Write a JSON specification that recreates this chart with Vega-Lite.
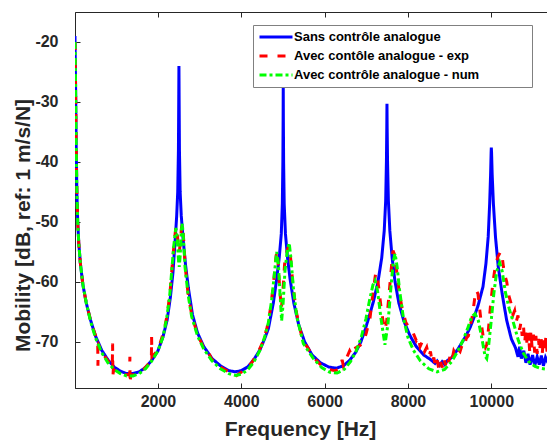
{
  "$schema": "https://vega.github.io/schema/vega-lite/v6.json",
  "autosize": {"type": "none"},
  "padding": {"left": 75, "top": 12, "right": 0, "bottom": 52},
  "width": 473,
  "height": 376,
  "background": "white",
  "config": {
    "font": "Liberation Sans",
    "view": {"stroke": "#262626", "strokeWidth": 1},
    "axis": {
      "grid": false,
      "domainColor": "#262626",
      "tickColor": "#262626",
      "labelColor": "#262626",
      "titleColor": "#262626",
      "labelFont": "Liberation Sans",
      "titleFont": "Liberation Sans",
      "labelFontSize": 16,
      "labelFontWeight": "bold",
      "titleFontSize": 21,
      "titleFontWeight": "bold",
      "tickSize": -5,
      "tickWidth": 1,
      "domainWidth": 1
    },
    "legend": {
      "orient": "none",
      "legendX": 178,
      "legendY": 13,
      "fillColor": "white",
      "strokeColor": "#808080",
      "strokeWidth": 1,
      "padding": 5,
      "labelFont": "Liberation Sans",
      "labelFontSize": 13,
      "labelFontWeight": "bold",
      "labelColor": "#000000",
      "labelLimit": 400,
      "symbolStrokeWidth": 3,
      "rowPadding": 5
    }
  },
  "encoding": {
    "y": {
      "field": "v",
      "type": "quantitative",
      "scale": {"domain": [-77.7, -15], "nice": false, "zero": false},
      "axis": {
        "values": [-70, -60, -50, -40, -30, -20],
        "labelExpr": "'' + datum.value",
        "title": "Mobility [dB, ref: 1 m/s/N]",
        "labelPadding": 22,
        "titleX": -46,
        "titleY": 213,
        "titleAngle": -90,
        "titleAlign": "center",
        "titleBaseline": "alphabetic",
        "titleAnchor": null
      }
    }
  },
  "layer": [
    {
      "data": {"values": [
        {"f":10,"v":-19},{"f":25,"v":-28},{"f":40,"v":-38},{"f":55,"v":-45},{"f":75,"v":-50},{"f":100,"v":-53.5},{"f":140,"v":-57},{"f":200,"v":-60.5},{"f":280,"v":-63.5},{"f":380,"v":-66.3},{"f":500,"v":-69},{"f":650,"v":-71.4},{"f":800,"v":-73},{"f":950,"v":-74.2},{"f":1100,"v":-74.9},{"f":1250,"v":-75.3},{"f":1400,"v":-75.3},{"f":1550,"v":-75},{"f":1700,"v":-74.3},{"f":1850,"v":-73.1},{"f":2000,"v":-71.5},{"f":2120,"v":-69.2},{"f":2220,"v":-66.4},{"f":2300,"v":-62.5},{"f":2360,"v":-58.5},{"f":2414,"v":-53},{"f":2450,"v":-49},{"f":2475,"v":-45},{"f":2492,"v":-38},{"f":2500,"v":-29},{"f":2504,"v":-24},{"f":2508,"v":-29},{"f":2516,"v":-38},{"f":2533,"v":-45},{"f":2560,"v":-49},{"f":2606,"v":-53},{"f":2660,"v":-57},{"f":2730,"v":-61},{"f":2830,"v":-65.5},{"f":2950,"v":-68.5},{"f":3100,"v":-70.8},{"f":3300,"v":-72.8},{"f":3500,"v":-74},{"f":3700,"v":-74.8},{"f":3850,"v":-75},{"f":4000,"v":-74.8},{"f":4150,"v":-74.2},{"f":4300,"v":-73},{"f":4450,"v":-71.3},{"f":4560,"v":-69.5},{"f":4650,"v":-67.8},{"f":4770,"v":-63.5},{"f":4850,"v":-59.5},{"f":4910,"v":-56},{"f":4960,"v":-52},{"f":4985,"v":-47},{"f":4998,"v":-40},{"f":5004,"v":-33},{"f":5007,"v":-27.3},{"f":5010,"v":-33},{"f":5016,"v":-40},{"f":5030,"v":-47},{"f":5060,"v":-52},{"f":5110,"v":-56},{"f":5170,"v":-59.5},{"f":5260,"v":-63.5},{"f":5380,"v":-67.2},{"f":5520,"v":-70},{"f":5700,"v":-72.2},{"f":5900,"v":-73.5},{"f":6100,"v":-74.2},{"f":6280,"v":-74.4},{"f":6450,"v":-74},{"f":6600,"v":-73.1},{"f":6750,"v":-71.7},{"f":6870,"v":-70},{"f":6980,"v":-67.8},{"f":7080,"v":-65.5},{"f":7170,"v":-63.3},{"f":7280,"v":-60},{"f":7370,"v":-56},{"f":7430,"v":-51.5},{"f":7465,"v":-46.5},{"f":7483,"v":-40},{"f":7492,"v":-34},{"f":7496,"v":-30.3},{"f":7500,"v":-34},{"f":7510,"v":-40},{"f":7530,"v":-46.5},{"f":7565,"v":-51.5},{"f":7620,"v":-56},{"f":7690,"v":-60},{"f":7780,"v":-63.5},{"f":7900,"v":-66.5},{"f":8050,"v":-69},{"f":8200,"v":-70.8},{"f":8380,"v":-72.2},{"f":8550,"v":-73},{"f":8650,"v":-73.6},{"f":8700,"v":-73.2},{"f":8760,"v":-73.9},{"f":8820,"v":-73.3},{"f":8880,"v":-73.8},{"f":8950,"v":-73.1},{"f":9050,"v":-72.6},{"f":9200,"v":-71.2},{"f":9350,"v":-69.5},{"f":9480,"v":-67.8},{"f":9560,"v":-66.4},{"f":9680,"v":-64},{"f":9800,"v":-60.8},{"f":9870,"v":-57},{"f":9925,"v":-52.5},{"f":9960,"v":-47},{"f":9983,"v":-42},{"f":9995,"v":-38.5},{"f":10000,"v":-37.6},{"f":10006,"v":-38.5},{"f":10020,"v":-42},{"f":10050,"v":-47},{"f":10100,"v":-52.5},{"f":10166,"v":-57.5},{"f":10260,"v":-62},{"f":10368,"v":-66.4},{"f":10480,"v":-69.5},{"f":10580,"v":-71},{"f":10640,"v":-72.5},{"f":10680,"v":-70.8},{"f":10720,"v":-72.8},{"f":10780,"v":-71.5},{"f":10830,"v":-73.5},{"f":10880,"v":-72},{"f":10930,"v":-73.8},{"f":10990,"v":-72.2},{"f":11040,"v":-74},{"f":11100,"v":-72.5},{"f":11150,"v":-73.8},{"f":11200,"v":-72.3},{"f":11250,"v":-74},{"f":11300,"v":-72.6},{"f":11360,"v":-73.5}
      ]},
      "mark": {"type": "line", "strokeWidth": 3, "clip": true},
      "encoding": {
        "x": {
          "field": "f", "type": "quantitative",
          "scale": {"domain": [10, 11360], "nice": false, "zero": false},
          "axis": {
            "values": [2000, 4000, 6000, 8000, 10000],
            "format": "d",
            "title": "Frequency [Hz]",
            "labelPadding": 10,
            "titleX": 225,
            "titleY": 47,
            "titleAlign": "center",
            "titleBaseline": "alphabetic",
            "titleAnchor": null
          }
        },
        "color": {
          "datum": "Sans contrôle analogue",
          "scale": {"domain": ["Sans contrôle analogue", "Avec contôle analogue - exp", "Avec contrôle analogue - num"], "range": ["#0000ff", "#ff0000", "#00ff00"]},
          "legend": {
            "title": null,
            "symbolType": "M-3,0H3",
            "symbolSize": 121,
            "symbolOffset": 11,
            "labelOffset": 11,
            "labelExpr": "datum.label + '\u00a0\u00a0\u00a0\u00a0\u00a0\u00a0\u00a0\u00a0\u00a0\u00a0\u00a0\u00a0\u00a0\u200b'"
          }
        },
        "strokeDash": {
          "datum": "Sans contrôle analogue",
          "scale": {"domain": ["Sans contrôle analogue", "Avec contôle analogue - exp", "Avec contrôle analogue - num"], "range": [[1, 0], [8, 10], [7, 3, 3, 3]]},
          "legend": {
            "title": null,
            "symbolType": "M-3,0H3",
            "symbolSize": 121,
            "symbolOffset": 11,
            "labelOffset": 11,
            "labelExpr": "datum.label + '\u00a0\u00a0\u00a0\u00a0\u00a0\u00a0\u00a0\u00a0\u00a0\u00a0\u00a0\u00a0\u00a0\u200b'"
          }
        }
      }
    },
    {
      "data": {"values": [
        {"f":10,"v":-20},{"f":25,"v":-28},{"f":40,"v":-38},{"f":55,"v":-45},{"f":75,"v":-50},{"f":100,"v":-53.5},{"f":140,"v":-57},{"f":200,"v":-60.5},{"f":280,"v":-63.5},{"f":380,"v":-66.3},{"f":480,"v":-68.5},{"f":555,"v":-69.8},{"f":560,"v":-74},{"f":566,"v":-70.8},{"f":575,"v":-70.5},{"f":700,"v":-72.2},{"f":850,"v":-73.6},{"f":905,"v":-74.2},{"f":912,"v":-70.3},{"f":920,"v":-75.8},{"f":930,"v":-74.6},{"f":1050,"v":-75.2},{"f":1200,"v":-75.5},{"f":1320,"v":-75.5},{"f":1327,"v":-72.5},{"f":1334,"v":-78.5},{"f":1342,"v":-75.6},{"f":1500,"v":-75.3},{"f":1650,"v":-74.6},{"f":1800,"v":-73.5},{"f":1842,"v":-73.3},{"f":1848,"v":-69.2},{"f":1856,"v":-72.5},{"f":1950,"v":-71.8},{"f":2050,"v":-70.3},{"f":2150,"v":-68},{"f":2220,"v":-65.6},{"f":2290,"v":-61.8},{"f":2340,"v":-57.5},{"f":2390,"v":-53.5},{"f":2425,"v":-51.2},{"f":2445,"v":-50.8},{"f":2470,"v":-52.5},{"f":2500,"v":-54.5},{"f":2515,"v":-55},{"f":2540,"v":-53},{"f":2565,"v":-51},{"f":2590,"v":-50.4},{"f":2620,"v":-53.2},{"f":2655,"v":-57.5},{"f":2720,"v":-61.8},{"f":2810,"v":-65.5},{"f":2950,"v":-68.8},{"f":3100,"v":-71},{"f":3200,"v":-71.5},{"f":3280,"v":-72.8},{"f":3400,"v":-73.8},{"f":3550,"v":-74.4},{"f":3700,"v":-75},{"f":3800,"v":-75.6},{"f":3850,"v":-75.8},{"f":3950,"v":-75.3},{"f":4100,"v":-74.6},{"f":4250,"v":-73.5},{"f":4400,"v":-71.8},{"f":4520,"v":-70},{"f":4620,"v":-67.6},{"f":4700,"v":-64.5},{"f":4770,"v":-60.5},{"f":4830,"v":-56},{"f":4855,"v":-54.8},{"f":4880,"v":-56.5},{"f":4920,"v":-60.8},{"f":4960,"v":-64.5},{"f":4990,"v":-62.5},{"f":5040,"v":-57},{"f":5100,"v":-54.8},{"f":5140,"v":-54},{"f":5180,"v":-55.8},{"f":5240,"v":-60.5},{"f":5320,"v":-65},{"f":5480,"v":-70},{"f":5600,"v":-71},{"f":5720,"v":-72.5},{"f":5900,"v":-73.8},{"f":6100,"v":-74.6},{"f":6250,"v":-74.8},{"f":6370,"v":-74.5},{"f":6420,"v":-73},{"f":6450,"v":-74},{"f":6520,"v":-72.8},{"f":6600,"v":-71.5},{"f":6650,"v":-72.2},{"f":6700,"v":-71.2},{"f":6800,"v":-70.8},{"f":6930,"v":-70.2},{"f":7000,"v":-68.5},{"f":7090,"v":-66},{"f":7160,"v":-61.8},{"f":7220,"v":-58.8},{"f":7250,"v":-58.5},{"f":7290,"v":-60.5},{"f":7350,"v":-64},{"f":7400,"v":-66.5},{"f":7450,"v":-68},{"f":7490,"v":-66.5},{"f":7540,"v":-62.5},{"f":7590,"v":-58.5},{"f":7640,"v":-54.8},{"f":7680,"v":-55.5},{"f":7730,"v":-58.3},{"f":7790,"v":-61.6},{"f":7860,"v":-64.5},{"f":7950,"v":-66.8},{"f":8050,"v":-67.8},{"f":8130,"v":-68.6},{"f":8200,"v":-69.8},{"f":8250,"v":-69.2},{"f":8290,"v":-70.8},{"f":8340,"v":-70},{"f":8400,"v":-71.6},{"f":8450,"v":-70.9},{"f":8500,"v":-72.5},{"f":8540,"v":-71.6},{"f":8580,"v":-73.5},{"f":8620,"v":-72.6},{"f":8660,"v":-74.2},{"f":8700,"v":-73.1},{"f":8740,"v":-74.5},{"f":8780,"v":-73.2},{"f":8820,"v":-74.3},{"f":8860,"v":-72.7},{"f":8900,"v":-73.9},{"f":8940,"v":-72.4},{"f":8980,"v":-73.4},{"f":9020,"v":-72},{"f":9060,"v":-72.9},{"f":9100,"v":-71.5},{"f":9150,"v":-72.1},{"f":9200,"v":-71.2},{"f":9250,"v":-71.6},{"f":9300,"v":-70.5},{"f":9350,"v":-70.8},{"f":9400,"v":-69.4},{"f":9450,"v":-69},{"f":9500,"v":-67.2},{"f":9550,"v":-65.5},{"f":9600,"v":-62.8},{"f":9640,"v":-61.4},{"f":9680,"v":-62},{"f":9720,"v":-64.5},{"f":9770,"v":-67.5},{"f":9820,"v":-69.8},{"f":9860,"v":-70.9},{"f":9890,"v":-70.5},{"f":9930,"v":-68},{"f":9980,"v":-64},{"f":10040,"v":-60},{"f":10100,"v":-57.2},{"f":10160,"v":-55.8},{"f":10220,"v":-55},{"f":10250,"v":-55.2},{"f":10290,"v":-57.5},{"f":10330,"v":-59},{"f":10370,"v":-60},{"f":10420,"v":-62.3},{"f":10470,"v":-63.5},{"f":10520,"v":-65.5},{"f":10560,"v":-64.8},{"f":10600,"v":-66.6},{"f":10640,"v":-65.6},{"f":10680,"v":-68},{"f":10710,"v":-66.8},{"f":10740,"v":-69},{"f":10770,"v":-67.2},{"f":10800,"v":-70.2},{"f":10830,"v":-67.8},{"f":10860,"v":-70.8},{"f":10890,"v":-68.5},{"f":10920,"v":-71.5},{"f":10950,"v":-68.2},{"f":10980,"v":-71.2},{"f":11010,"v":-68.8},{"f":11040,"v":-71.8},{"f":11070,"v":-69},{"f":11100,"v":-72},{"f":11130,"v":-69.5},{"f":11160,"v":-71.6},{"f":11190,"v":-68.8},{"f":11220,"v":-72.2},{"f":11250,"v":-69.3},{"f":11280,"v":-71.7},{"f":11310,"v":-69},{"f":11340,"v":-72},{"f":11360,"v":-70}
      ]},
      "mark": {"type": "line", "strokeWidth": 3, "clip": true},
      "encoding": {
        "x": {
          "field": "f", "type": "quantitative",
          "scale": {"domain": [10, 11360], "nice": false, "zero": false},
          "axis": {
            "orient": "top",
            "values": [2000, 4000, 6000, 8000, 10000],
            "labels": false,
            "title": null,
            "domain": false
          }
        },
        "color": {"datum": "Avec contôle analogue - exp"},
        "strokeDash": {"datum": "Avec contôle analogue - exp"}
      }
    },
    {
      "data": {"values": [
        {"f":10,"v":-20},{"f":25,"v":-28},{"f":40,"v":-38},{"f":55,"v":-45},{"f":75,"v":-50},{"f":100,"v":-53.5},{"f":140,"v":-57},{"f":200,"v":-60.5},{"f":280,"v":-63.5},{"f":380,"v":-66.5},{"f":500,"v":-69.3},{"f":650,"v":-71.8},{"f":800,"v":-73.5},{"f":950,"v":-74.6},{"f":1100,"v":-75.3},{"f":1250,"v":-75.7},{"f":1400,"v":-75.7},{"f":1550,"v":-75.3},{"f":1700,"v":-74.5},{"f":1850,"v":-73.2},{"f":2000,"v":-71.5},{"f":2120,"v":-69.2},{"f":2207,"v":-66.2},{"f":2280,"v":-62.5},{"f":2327,"v":-58.5},{"f":2380,"v":-54},{"f":2431,"v":-51},{"f":2465,"v":-53},{"f":2495,"v":-56.5},{"f":2512,"v":-57.5},{"f":2535,"v":-55.5},{"f":2560,"v":-51.5},{"f":2585,"v":-50.3},{"f":2615,"v":-53},{"f":2650,"v":-57.5},{"f":2720,"v":-62},{"f":2810,"v":-65.8},{"f":2950,"v":-69},{"f":3100,"v":-71.2},{"f":3300,"v":-73.2},{"f":3500,"v":-74.5},{"f":3700,"v":-75.3},{"f":3870,"v":-75.6},{"f":4000,"v":-75.4},{"f":4150,"v":-74.7},{"f":4300,"v":-73.4},{"f":4450,"v":-71.4},{"f":4560,"v":-69.2},{"f":4650,"v":-66.8},{"f":4730,"v":-63},{"f":4790,"v":-59},{"f":4848,"v":-55},{"f":4890,"v":-57},{"f":4930,"v":-62},{"f":4968,"v":-66.5},{"f":5000,"v":-64},{"f":5050,"v":-58},{"f":5110,"v":-54.5},{"f":5150,"v":-53.5},{"f":5190,"v":-56},{"f":5250,"v":-61},{"f":5330,"v":-65.8},{"f":5490,"v":-70.3},{"f":5730,"v":-72.8},{"f":5930,"v":-74.3},{"f":6130,"v":-75.1},{"f":6300,"v":-75.2},{"f":6470,"v":-74.6},{"f":6620,"v":-73.3},{"f":6760,"v":-71.5},{"f":6880,"v":-69.2},{"f":6990,"v":-66.2},{"f":7080,"v":-63},{"f":7160,"v":-60.5},{"f":7210,"v":-59.8},{"f":7270,"v":-61.5},{"f":7350,"v":-66},{"f":7447,"v":-70.5},{"f":7520,"v":-67},{"f":7590,"v":-61},{"f":7650,"v":-56.5},{"f":7690,"v":-55.3},{"f":7740,"v":-57.5},{"f":7800,"v":-61.5},{"f":7890,"v":-66},{"f":8000,"v":-69.3},{"f":8130,"v":-71.4},{"f":8300,"v":-73.2},{"f":8500,"v":-74.5},{"f":8700,"v":-75},{"f":8880,"v":-74.6},{"f":9050,"v":-73.3},{"f":9200,"v":-71.5},{"f":9330,"v":-69.6},{"f":9430,"v":-67.8},{"f":9530,"v":-65.8},{"f":9610,"v":-65.3},{"f":9690,"v":-66.5},{"f":9770,"v":-69.3},{"f":9850,"v":-72.4},{"f":9890,"v":-72.8},{"f":9930,"v":-71},{"f":9990,"v":-67},{"f":10060,"v":-62},{"f":10130,"v":-58.2},{"f":10200,"v":-56.8},{"f":10260,"v":-58.2},{"f":10340,"v":-61.8},{"f":10430,"v":-64.5},{"f":10530,"v":-66.8},{"f":10650,"v":-69.8},{"f":10770,"v":-71.9},{"f":10900,"v":-73.3},{"f":11050,"v":-74.1},{"f":11170,"v":-74.4},{"f":11360,"v":-74.6}
      ]},
      "mark": {"type": "line", "strokeWidth": 3, "clip": true},
      "encoding": {
        "x": {
          "field": "f", "type": "quantitative",
          "scale": {"domain": [10, 11360], "nice": false, "zero": false},
          "axis": null
        },
        "color": {"datum": "Avec contrôle analogue - num"},
        "strokeDash": {"datum": "Avec contrôle analogue - num"}
      }
    }
  ],
  "resolve": {"axis": {"x": "independent"}}
}
